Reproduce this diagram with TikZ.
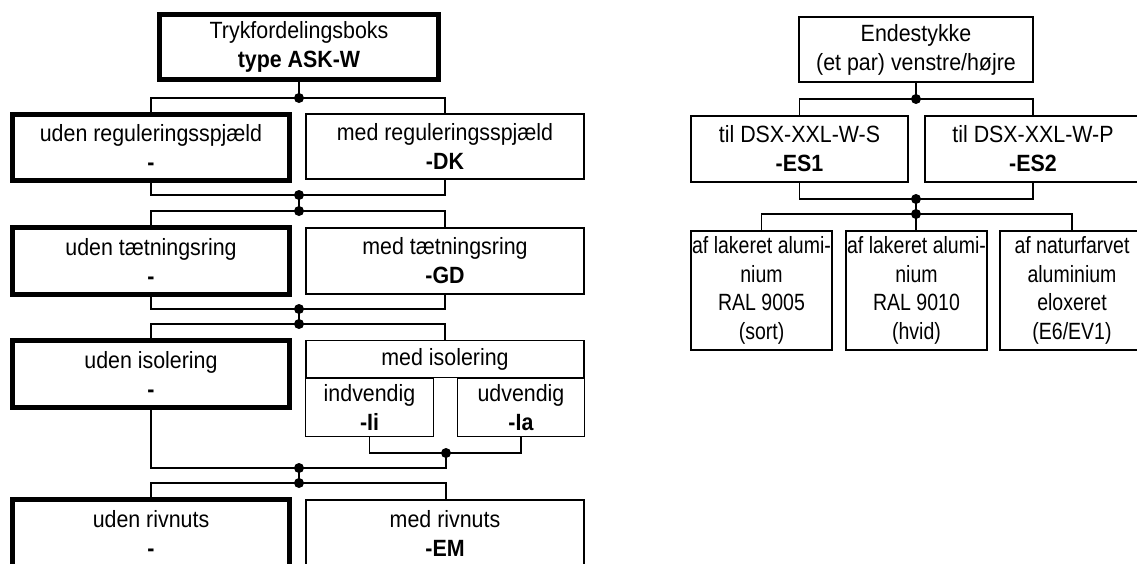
\documentclass[tikz,border=0pt]{standalone}
\usepackage{fontspec}
\setmainfont{Liberation Sans}[FakeStretch=0.91]
\newfontfamily\narrowfont{Liberation Sans}[FakeStretch=0.83]
\begin{document}
\begin{tikzpicture}[x=1pt,y=-1pt,
  box/.style={draw, rectangle, line width=1.7pt, inner sep=0pt, outer sep=0pt, align=center,
    font=\fontsize{23.5}{29}\selectfont},
  thickbox/.style={box, line width=5pt},
  narrowbox/.style={box, font=\narrowfont\fontsize{23.5}{28.5}\selectfont},
  conn/.style={line width=1.5pt},
  dot/.style={circle, fill=black, inner sep=0pt, minimum size=10pt}]
\clip (0,0) rectangle (1137,563);
\fill[white] (0,0) rectangle (1137,563);
% ---------- left tree ----------
\node[thickbox, minimum width=279pt, minimum height=65pt] (top) at (299,47) {Trykfordelingsboks\\\textbf{type ASK-W}};
\node[thickbox, minimum width=277pt, minimum height=66pt] (ur) at (151,147.5) {uden reguleringsspjæld\\\textbf{-}};
\node[box, minimum width=278pt, minimum height=65pt] (mr) at (445,146.5) {med reguleringsspjæld\\\textbf{-DK}};
\node[thickbox, minimum width=277pt, minimum height=67pt] (ut) at (151,261) {uden tætningsring\\\textbf{-}};
\node[box, minimum width=278pt, minimum height=66pt] (mt) at (445,261) {med tætningsring\\\textbf{-GD}};
\node[thickbox, minimum width=277pt, minimum height=67pt] (ui) at (151,374) {uden isolering\\\textbf{-}};
\node[box, minimum width=278pt, minimum height=37pt] (mi) at (445,359) {med isolering};
\node[box, minimum width=128pt, minimum height=58pt] (iv) at (369.5,407.5) {indvendig\\\textbf{-Ii}};
\node[box, minimum width=127pt, minimum height=58pt] (uv) at (521,407.5) {udvendig\\\textbf{-Ia}};
\node[thickbox, minimum width=277pt, minimum height=67pt] (un) at (151,533) {uden rivnuts\\\textbf{-}};
\node[box, minimum width=278pt, minimum height=66pt] (mn) at (445,533) {med rivnuts\\\textbf{-EM}};
% junctions
\coordinate (j1) at (299,98);
\coordinate (j2) at (299,195);
\coordinate (j3) at (299,211);
\coordinate (j4) at (299,309);
\coordinate (j5) at (299,324);
\coordinate (ji) at (446,453);
\coordinate (ji2) at (446,468);
\coordinate (j6) at (299,468);
\coordinate (j7) at (299,483);
\coordinate (j7r) at (446,483);
\draw[conn] (top.south) -- (j1);
\draw[conn] (ur.north) |- (j1) -| (mr.north);
\draw[conn] (ur.south) |- (j2) -| (mr.south);
\draw[conn] (j2) -- (j3);
\draw[conn] (ut.north) |- (j3) -| (mt.north);
\draw[conn] (ut.south) |- (j4) -| (mt.south);
\draw[conn] (j4) -- (j5);
\draw[conn] (ui.north) |- (j5) -| (mi.north);
\draw[conn] (iv.south) |- (ji) -| (uv.south);
\draw[conn] (ui.south) |- (j6) -- (ji2) -- (ji);
\draw[conn] (j6) -- (j7);
\draw[conn] (un.north) |- (j7) -- (j7r) -- (j7r |- mn.north);
\foreach \j in {j1,j2,j3,j4,j5,ji,j6,j7} \node[dot] at (\j) {};
% ---------- right tree ----------
\node[box, minimum width=234pt, minimum height=65pt] (end) at (916,49.5) {Endestykke\\(et par) venstre/højre};
\node[box, minimum width=217pt, minimum height=66pt] (es1) at (799.5,149) {til DSX-XXL-W-S\\\textbf{-ES1}};
\node[box, minimum width=216pt, minimum height=66pt] (es2) at (1033,149) {til DSX-XXL-W-P\\\textbf{-ES2}};
\node[narrowbox, minimum width=141pt, minimum height=119pt] (b1) at (761.5,290.5) {af lakeret alumi-\\nium\\RAL 9005\\(sort)};
\node[narrowbox, minimum width=141pt, minimum height=119pt] (b2) at (916.5,290.5) {af lakeret alumi-\\nium\\RAL 9010\\(hvid)};
\node[narrowbox, minimum width=144pt, minimum height=119pt] (b3) at (1072,290.5) {af naturfarvet\\aluminium\\eloxeret\\(E6/EV1)};
\coordinate (k1) at (916,99);
\coordinate (k2) at (916,199);
\coordinate (k3) at (916,214);
\draw[conn] (end.south) -- (k1);
\draw[conn] (es1.north) |- (k1) -| (es2.north);
\draw[conn] (es1.south) |- (k2) -| (es2.south);
\draw[conn] (k2) -- (k3);
\draw[conn] (b1.north) |- (k3) -| (b3.north);
\draw[conn] (k3) -- (k3 |- b2.north);
\foreach \j in {k1,k2,k3} \node[dot] at (\j) {};
\end{tikzpicture}
\end{document}
